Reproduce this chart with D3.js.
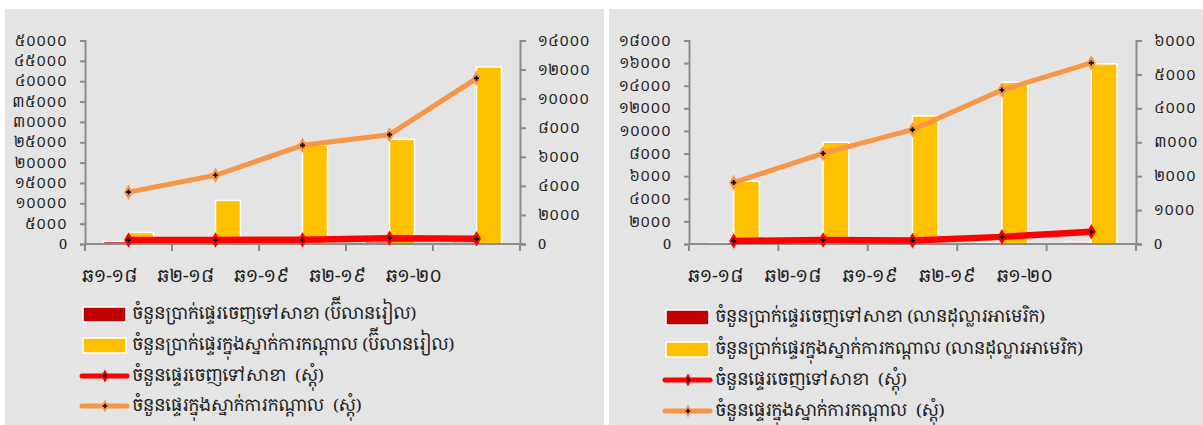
<!DOCTYPE html>
<html>
<head>
<meta charset="utf-8">
<script src="https://cdn.jsdelivr.net/npm/d3@7"></script>
<style>
  html, body { margin: 0; padding: 0; background: #ffffff; }
  svg { display: block; }
  text { font-family: "Noto Serif Khmer", "Khmer OS Battambang", "Noto Sans Khmer", "Khmer OS", "DejaVu Sans", sans-serif; fill: #222; }
</style>
</head>
<body>
<svg id="chart" width="1203" height="425"></svg>
<script>
// Half-year periods
const categories = ["ឆ១-១៨", "ឆ២-១៨", "ឆ១-១៩", "ឆ២-១៩", "ឆ១-២០"];

// Riel panel (billion riel / count)
const rielOutAmount = [600, 450, 450, 550, 500];
const rielHqAmount = [2850, 10700, 24300, 25700, 43500];
const rielOutCount = [280, 280, 290, 400, 360];
const rielHqCount = [3570, 4730, 6790, 7520, 11400];

// Dollar panel (million USD / count)
const usdOutAmount = [80, 90, 90, 120, 170];
const usdHqAmount = [5550, 9000, 11330, 14300, 15930];
const usdOutCount = [90, 120, 100, 210, 360];
const usdHqCount = [1810, 2670, 3370, 4540, 5340];

// Axis ticks
const rielLeftTicks = [0, 5000, 10000, 15000, 20000, 25000, 30000, 35000, 40000, 45000, 50000];
const rielRightTicks = [0, 2000, 4000, 6000, 8000, 10000, 12000, 14000];
const usdLeftTicks = [0, 2000, 4000, 6000, 8000, 10000, 12000, 14000, 16000, 18000];
const usdRightTicks = [0, 1000, 2000, 3000, 4000, 5000, 6000];

const legendRiel = [
  "ចំនួនប្រាក់ផ្ទេរចេញទៅសាខា (ប៊ីលានរៀល)",
  "ចំនួនប្រាក់ផ្ទេរក្នុងស្នាក់ការកណ្តាល (ប៊ីលានរៀល)",
  "ចំនួនផ្ទេរចេញទៅសាខា  (ស្តុំ)",
  "ចំនួនផ្ទេរក្នុងស្នាក់ការកណ្តាល  (ស្តុំ)"
];
const legendUsd = [
  "ចំនួនប្រាក់ផ្ទេរចេញទៅសាខា (លានដុល្លារអាមេរិក)",
  "ចំនួនប្រាក់ផ្ទេរក្នុងស្នាក់ការកណ្តាល (លានដុល្លារអាមេរិក)",
  "ចំនួនផ្ទេរចេញទៅសាខា  (ស្តុំ)",
  "ចំនួនផ្ទេរក្នុងស្នាក់ការកណ្តាល  (ស្តុំ)"
];

const COLORS = {
  bg: "#e4e4e4",
  axis: "#8c8c8c",
  barOut: "#c00000",
  barHq: "#ffc000",
  lineOut: "#ff0000",
  lineHq: "#f79646"
};

const khmerDigits = "០១២៣៤៥៦៧៨៩";
function khmerNum(v) {
  if (v === 0) return "0";
  return String(v).replace(/[0-9]/g, d => khmerDigits[+d]);
}

const svg = d3.select("#chart");

function drawPanel(cfg) {
  const g = svg.append("g");

  g.append("rect")
    .attr("x", cfg.bg[0]).attr("y", cfg.bg[1])
    .attr("width", cfg.bg[2]).attr("height", cfg.bg[3])
    .attr("fill", COLORS.bg);

  const x0 = d3.scaleBand().domain(categories).range([cfg.left, cfg.right]).padding(0);
  const x1 = d3.scaleBand().domain(["out", "hq"]).range([0, x0.bandwidth()])
    .paddingInner(0).paddingOuter(0.74);
  const yL = d3.scaleLinear().domain([0, d3.max(cfg.leftTicks)]).range([cfg.bottom, cfg.top]);
  const yR = d3.scaleLinear().domain([0, d3.max(cfg.rightTicks)]).range([cfg.bottom, cfg.top]);

  // Left axis
  const axL = g.append("g").attr("transform", `translate(${cfg.left},0)`)
    .call(d3.axisLeft(yL).tickValues(cfg.leftTicks).tickFormat(khmerNum).tickSize(5).tickPadding(13));
  // Right axis
  const axR = g.append("g").attr("transform", `translate(${cfg.right},0)`)
    .call(d3.axisRight(yR).tickValues(cfg.rightTicks).tickFormat(khmerNum).tickSize(6).tickPadding(12));
  [axL, axR].forEach(a => {
    a.select(".domain").attr("stroke", COLORS.axis).attr("stroke-width", 2);
    a.selectAll(".tick line").attr("stroke", COLORS.axis).attr("stroke-width", 2);
    a.selectAll(".tick text").attr("font-size", 14.5).attr("fill", "#222");
  });

  // Bars
  const bars = categories.map((c, i) => ({ c, out: cfg.outAmount[i], hq: cfg.hqAmount[i] }));
  const grp = g.append("g").selectAll("g").data(bars).join("g")
    .attr("transform", d => `translate(${x0(d.c)},0)`);
  grp.append("rect")
    .attr("x", x1("out")).attr("width", x1.bandwidth())
    .attr("y", d => yL(d.out)).attr("height", d => cfg.bottom - yL(d.out))
    .attr("fill", COLORS.barOut).attr("stroke", "#ffffff").attr("stroke-width", 1.5);
  grp.append("rect")
    .attr("x", x1("hq")).attr("width", x1.bandwidth())
    .attr("y", d => yL(d.hq)).attr("height", d => cfg.bottom - yL(d.hq))
    .attr("fill", COLORS.barHq).attr("stroke", "#ffffff").attr("stroke-width", 1.5);

  // X axis
  const axX = g.append("g").attr("transform", `translate(0,${cfg.bottom})`);
  axX.append("line").attr("x1", cfg.left).attr("x2", cfg.right + 4)
    .attr("stroke", COLORS.axis).attr("stroke-width", 2);
  const bounds = categories.map(c => x0(c)).concat([cfg.right]);
  axX.selectAll("line.tk").data(bounds).join("line").attr("class", "tk")
    .attr("x1", d => d).attr("x2", d => d).attr("y1", 0).attr("y2", 7)
    .attr("stroke", COLORS.axis).attr("stroke-width", 2);

  // Category labels row
  const xl = d3.scalePoint().domain(categories).range(cfg.labelRange);
  g.append("g").selectAll("text").data(categories).join("text")
    .attr("x", d => xl(d)).attr("y", cfg.labelY)
    .attr("text-anchor", "middle").attr("dominant-baseline", "middle")
    .attr("font-size", 18).text(d => d);

  // Lines on the right axis
  const cx = c => x0(c) + x0.bandwidth() / 2;
  const lineGen = d3.line().x(d => cx(d.c)).y(d => yR(d.v));
  const series = [
    { key: "hq", color: COLORS.lineHq, width: 5, vals: cfg.hqCount },
    { key: "out", color: COLORS.lineOut, width: 6.5, vals: cfg.outCount }
  ];
  series.forEach(s => {
    const pts = categories.map((c, i) => ({ c, v: s.vals[i] }));
    g.append("path").datum(pts).attr("d", lineGen)
      .attr("fill", "none").attr("stroke", s.color).attr("stroke-width", s.width)
      .attr("stroke-linejoin", "round");
    const m = g.append("g").selectAll("g").data(pts).join("g")
      .attr("transform", d => `translate(${cx(d.c)},${yR(d.v)})`);
    m.append("path").attr("d", d3.symbol(d3.symbolDiamond, 70)()).attr("fill", s.color);
    m.append("path").attr("d", d3.symbol(d3.symbolCross, 14)()).attr("fill", "#000");
  });

  // Legend
  const leg = g.append("g");
  cfg.legend.forEach((t, i) => {
    const y = cfg.legendY[i];
    if (i < 2) {
      leg.append("rect").attr("x", cfg.legendX).attr("y", y - 7).attr("width", 43).attr("height", 15)
        .attr("fill", i === 0 ? COLORS.barOut : COLORS.barHq)
        .attr("stroke", "#ffffff").attr("stroke-width", 1.5);
    } else {
      const col = i === 2 ? COLORS.lineOut : COLORS.lineHq;
      leg.append("line").attr("x1", cfg.legendX - 1).attr("x2", cfg.legendX + 44)
        .attr("y1", y).attr("y2", y).attr("stroke", col).attr("stroke-width", 5)
        .attr("stroke-linecap", "round");
      const mx = cfg.legendX + 22;
      leg.append("path").attr("transform", `translate(${mx},${y})`)
        .attr("d", d3.symbol(d3.symbolDiamond, 50)()).attr("fill", col);
      leg.append("path").attr("transform", `translate(${mx},${y})`)
        .attr("d", d3.symbol(d3.symbolCross, 12)()).attr("fill", "#000");
    }
    leg.append("text").attr("x", cfg.legendX + 49).attr("y", y)
      .attr("dominant-baseline", "middle").attr("font-size", 17)
      .style("white-space", "pre").text(t);
  });
}

drawPanel({
  bg: [5, 9, 599, 416],
  left: 85, right: 520, top: 40.5, bottom: 244,
  leftTicks: rielLeftTicks, rightTicks: rielRightTicks,
  outAmount: rielOutAmount, hqAmount: rielHqAmount,
  outCount: rielOutCount, hqCount: rielHqCount,
  labelRange: [110, 414], labelY: 277,
  legend: legendRiel, legendX: 83, legendY: [314, 345, 376, 406]
});

drawPanel({
  bg: [609, 9, 594, 416],
  left: 689, right: 1136, top: 40.5, bottom: 244,
  leftTicks: usdLeftTicks, rightTicks: usdRightTicks,
  outAmount: usdOutAmount, hqAmount: usdHqAmount,
  outCount: usdOutCount, hqCount: usdHqCount,
  labelRange: [716, 1025], labelY: 277,
  legend: legendUsd, legendX: 666, legendY: [317, 349, 380, 411]
});
</script>
</body>
</html>
